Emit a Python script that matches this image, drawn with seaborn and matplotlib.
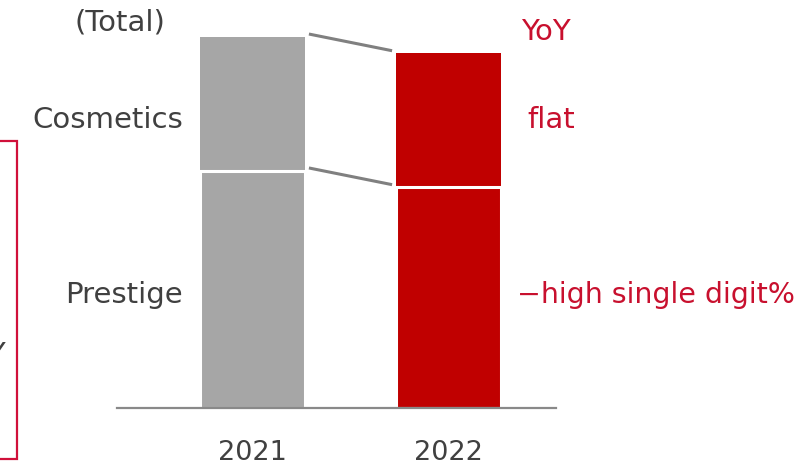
import matplotlib
matplotlib.use("Agg")
import matplotlib.pyplot as plt
import seaborn as sns
import pandas as pd
from matplotlib.patches import Rectangle

# ---- data (2021 total = 100) ----
years = ["2021", "2022"]
prestige = [63.9, 59.6]
cosmetics = [36.1, 36.1]
left_labels = ["(Total)", "Cosmetics", "Prestige"]
yoy_labels = ["YoY", "flat", "\u2212high single digit%"]

GRAY = "#A6A6A6"
RED = "#C00000"
TXT = "#404040"
RTXT = "#C8102E"

sns.set_theme(style="white")
plt.rcParams["font.family"] = ["DejaVu Sans"]

W, H = 810, 465
fig = plt.figure(figsize=(W / 100, H / 100), dpi=100)

def fx(px):
    return px / W

def fy(py):
    return 1 - py / H

ax_left, ax_right, ax_bottom, ax_top = 117, 556, 408, 0
ax = fig.add_axes([fx(ax_left), fy(ax_bottom), fx(ax_right - ax_left), (ax_bottom - ax_top) / H])

totals = [p + c for p, c in zip(prestige, cosmetics)]
df_tot = pd.DataFrame({"year": years, "value": totals})
df_pre = pd.DataFrame({"year": years, "value": prestige})

bw = 105 / 196
sns.barplot(data=df_tot, x="year", y="value", hue="year", palette=[GRAY, RED],
            width=bw, legend=False, ax=ax, edgecolor="white", linewidth=0, saturation=1)
sns.barplot(data=df_pre, x="year", y="value", hue="year", palette=[GRAY, RED],
            width=bw, legend=False, ax=ax, edgecolor="white", linewidth=2.2, saturation=1)

# y scale: 2021 total spans 371 px of the 408 px axes height
ax.set_ylim(0, totals[0] * 408 / 371)
ax.set_xlim(-(252.5 - 117) / 196, 1 + (556 - 448.5) / 196)

# connecting lines
gap = 0.02
for y0, y1 in [(totals[0], totals[1]), (prestige[0], prestige[1])]:
    ax.plot([bw / 2 + gap, 1 - bw / 2 - gap], [y0 + 0.8, y1 + 0.6], color="#808080",
            lw=2.2, solid_capstyle="butt", zorder=5)

for s in ["top", "left", "right"]:
    ax.spines[s].set_visible(False)
ax.spines["bottom"].set_color("#898989")
ax.spines["bottom"].set_linewidth(1.6)
ax.set_yticks([])
ax.set_xlabel("")
ax.set_ylabel("")
ax.tick_params(axis="x", length=0, pad=23, labelsize=19.5, labelcolor=TXT)

FS = 21
# left labels
fig.text(fx(165), fy(22), left_labels[0], ha="right", va="center", fontsize=FS, color=TXT)
fig.text(fx(183), fy(120), left_labels[1], ha="right", va="center", fontsize=FS, color=TXT)
fig.text(fx(183), fy(295), left_labels[2], ha="right", va="center", fontsize=FS, color=TXT)

# right labels
fig.text(fx(546), fy(32), yoy_labels[0], ha="center", va="center", fontsize=FS, color=RTXT)
fig.text(fx(575), fy(120), yoy_labels[1], ha="right", va="center", fontsize=FS, color=RTXT)
fig.text(fx(517), fy(295), yoy_labels[2], ha="left", va="center", fontsize=20.5, color=RTXT)

# partially visible box on the left
fig.patches.append(Rectangle((fx(-20), fy(459)), fx(37), (459 - 141) / H,
                             transform=fig.transFigure, fill=False,
                             edgecolor="#D0103A", lw=1.6))
fig.text(fx(6), fy(355), "YoY", ha="right", va="center", fontsize=FS, color=TXT)

fig.savefig("out.png", dpi=100)
